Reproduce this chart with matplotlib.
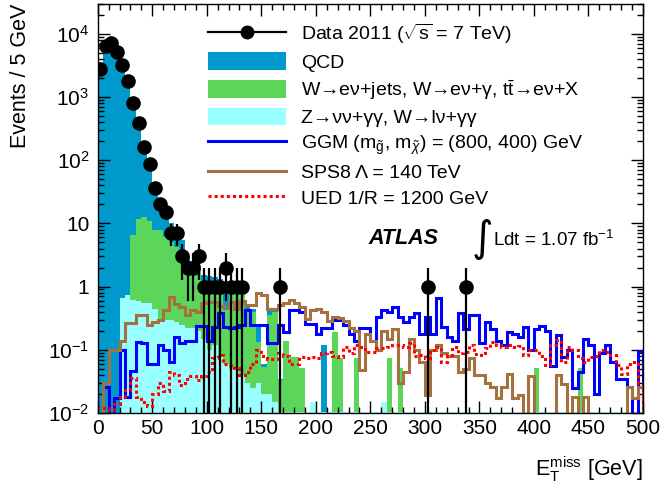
import numpy as np
import matplotlib
matplotlib.use("Agg")
import matplotlib.pyplot as plt
from matplotlib.lines import Line2D
from matplotlib.patches import Patch
from matplotlib.ticker import MultipleLocator, LogLocator, FixedLocator, FixedFormatter, NullFormatter

plt.rcParams['font.family'] = ['Liberation Sans', 'DejaVu Sans']
plt.rcParams['mathtext.fontset'] = 'custom'
plt.rcParams['mathtext.rm'] = 'Liberation Sans'
plt.rcParams['mathtext.it'] = 'Liberation Sans:italic'
plt.rcParams['mathtext.bf'] = 'Liberation Sans:bold'
plt.rcParams['mathtext.sf'] = 'Liberation Sans'

# 5 GeV bins, 0 - 500 GeV
bin_width = 5
n_bins = 100

# observed events per bin
data_2011 = [2770, 6400, 7150, 5150, 3200, 1790, 800, 390, 162, 87,
             36, 20, 15, 7, 7, 3, 2, 2, 3, 1,
             1, 1, 1, 2, 1, 1, 1, 0, 0, 0,
             0, 0, 0, 1, 0, 0, 0, 0, 0, 0,
             0, 0, 0, 0, 0, 0, 0, 0, 0, 0,
             0, 0, 0, 0, 0, 0, 0, 0, 0, 0,
             1, 0, 0, 0, 0, 0, 0, 1, 0, 0,
             0, 0, 0, 0, 0, 0, 0, 0, 0, 0,
             0, 0, 0, 0, 0, 0, 0, 0, 0, 0,
             0, 0, 0, 0, 0, 0, 0, 0, 0, 0]

# stacked background: top of QCD + W + Z
stack_qcd = [2500, 6000, 6300, 5000, 3000, 1500, 720, 340, 150, 75,
             38, 23, 14.5, 10, 7, 5.5, 3, 2.5, 2.2, 1.5,
             1.45, 1.4, 1.3, 0.8, 1.0, 0.95, 0.9, 0.5, 0.45, 0.25,
             0.06, 0.45, 0.42, 0.035, 0.14, 0.078, 0.078, 0.052, 0.0105, 0.015,
             0.0105, 0.12, 0.0105, 0.19, 0.075, 0.0105, 0.0105, 0.075, 0.0105, 0.0105,
             0.0105, 0.0105, 0.015, 0.075, 0.0105, 0.052, 0.0105, 0.0105, 0.0105, 0.0105,
             0.0105, 0.0105, 0.0105, 0.0105, 0.0105, 0.0105, 0.0105, 0.0105, 0.0105, 0.0105,
             0.0105, 0.0105, 0.0105, 0.0105, 0.0105, 0.0105, 0.0105, 0.0105, 0.0105, 0.0105,
             0.052, 0.0105, 0.0105, 0.0105, 0.0105, 0.0105, 0.0105, 0.0105, 0.052, 0.0105,
             0.0105, 0.0105, 0.0105, 0.0105, 0.0105, 0.0105, 0.0105, 0.0105, 0.0105, 0.0105]

# stacked background: top of W + Z
stack_w = [0, 0, 0, 0, 0.65, 0.74, 6.5, 11.7, 12.5, 11,
           8, 8, 6.2, 5, 4.3, 3.5, 2.5, 1.6, 1.8, 1.2,
           1.1, 1.0, 0.9, 0.43, 0.9, 0.85, 0.8, 0.45, 0.4, 0.134,
           0.054, 0.355, 0.4, 0.033, 0.14, 0.078, 0.078, 0.052, 0.0105, 0.015,
           0.0105, 0.0105, 0.0105, 0.19, 0.075, 0.0105, 0.0105, 0.075, 0.0105, 0.0105,
           0.0105, 0.0105, 0.015, 0.075, 0.0105, 0.052, 0.0105, 0.0105, 0.0105, 0.0105,
           0.0105, 0.0105, 0.0105, 0.0105, 0.0105, 0.0105, 0.0105, 0.0105, 0.0105, 0.0105,
           0.0105, 0.0105, 0.0105, 0.0105, 0.0105, 0.0105, 0.0105, 0.0105, 0.0105, 0.0105,
           0.052, 0.0105, 0.0105, 0.0105, 0.0105, 0.0105, 0.0105, 0.0105, 0.052, 0.0105,
           0.0105, 0.0105, 0.0105, 0.0105, 0.0105, 0.0105, 0.0105, 0.0105, 0.0105, 0.0105]

# bottom of stack: Z -> nu nu + gamma gamma, W -> l nu + gamma gamma
stack_z = [0, 0, 0, 0, 0.65, 0.74, 0.62, 0.6, 0.56, 0.55,
           0.45, 0.3, 0.3, 0.3, 0.28, 0.25, 0.22, 0.22, 0.2, 0.15,
           0.1, 0.12, 0.08, 0.06, 0.05, 0.05, 0.04, 0.03, 0.025, 0.03,
           0.02, 0.02, 0.015, 0.0105, 0.0105, 0.0105, 0.0105, 0.0105, 0.0105, 0.015,
           0.0105, 0.0105, 0.0105, 0.0105, 0.0105, 0.0105, 0.0105, 0.0105, 0.0105, 0.0105,
           0.0105, 0.0105, 0.015, 0.0105, 0.0105, 0.0105, 0.0105, 0.0105, 0.0105, 0.0105,
           0.0105, 0.0105, 0.0105, 0.0105, 0.0105, 0.0105, 0.0105, 0.0105, 0.0105, 0.0105,
           0.0105, 0.0105, 0.0105, 0.0105, 0.0105, 0.0105, 0.0105, 0.0105, 0.0105, 0.0105,
           0.0105, 0.0105, 0.0105, 0.0105, 0.0105, 0.0105, 0.0105, 0.0105, 0.0105, 0.0105,
           0.0105, 0.0105, 0.0105, 0.0105, 0.0105, 0.0105, 0.0105, 0.0105, 0.0105, 0.0105]

# signal models
ggm = [0, 0.026, 0, 0.017, 0.1, 0.018, 0.047, 0.134, 0.13, 0.06,
       0.06, 0.12, 0.1, 0.065, 0.16, 0.13, 0.14, 0.14, 0.24, 0.24,
       0.14, 0.23, 0.38, 0.23, 0.22, 0.23, 0.25, 0.43, 0.25, 0.25,
       0.25, 0.13, 0.13, 0.25, 0.19, 0.43, 0.43, 0.4, 0.26, 0.26,
       0.18, 0.22, 0.22, 0.3, 0.3, 0.25, 0.18, 0.14, 0.22, 0.22,
       0.14, 0.33, 0.43, 0.4, 0.48, 0.33, 0.28, 0.33, 0.38, 0.18,
       0.33, 0.18, 0.65, 0.23, 0.16, 0.14, 0.38, 0.21, 0.35, 0.35,
       0.13, 0.28, 0.21, 0.14, 0.12, 0.19, 0.18, 0.16, 0.23, 0.1,
       0.21, 0.24, 0.2, 0.055, 0.17, 0.078, 0.1, 0.025, 0.045, 0.15,
       0.12, 0.02, 0.088, 0.12, 0.065, 0.035, 0.035, 0.026, 0, 0.094]

sps8 = [0, 0.03, 0.1, 0.1, 0.14, 0.27, 0.27, 0.35, 0.35, 0.25,
        0.28, 0.3, 0.43, 0.69, 0.54, 0.48, 0.36, 0.43, 0.4, 0.55,
        0.58, 0.58, 0.5, 0.48, 0.58, 0.45, 0.6, 0.52, 0.52, 0.78,
        0.73, 0.45, 0.45, 0.52, 0.55, 0.61, 0.55, 0.48, 0.31, 0.42,
        0.45, 0.4, 0.29, 0.33, 0.32, 0.29, 0.22, 0.2, 0.048, 0.18,
        0.14, 0.1, 0.2, 0.15, 0.21, 0.03, 0.045, 0.15, 0.1, 0.065,
        0.019, 0.1, 0.12, 0.088, 0.08, 0.08, 0.045, 0.05, 0.075, 0.04,
        0.04, 0.03, 0.026, 0.017, 0.026, 0.042, 0.017, 0.019, 0, 0.038,
        0, 0, 0, 0, 0.04, 0.029, 0, 0.018, 0, 0.018,
        0, 0, 0, 0, 0, 0, 0, 0.026, 0.017, 0.026]

ued = [0.012, 0.012, 0.011, 0.014, 0.018, 0.023, 0.036, 0.018, 0.015, 0.013,
       0.02, 0.03, 0.022, 0.045, 0.04, 0.028, 0.035, 0.038, 0.033, 0.038,
       0.045, 0.075, 0.083, 0.06, 0.057, 0.052, 0.04, 0.045, 0.06, 0.1,
       0.08, 0.072, 0.072, 0.088, 0.08, 0.06, 0.06, 0.078, 0.075, 0.078,
       0.073, 0.088, 0.093, 0.08, 0.078, 0.11, 0.09, 0.119, 0.11, 0.093,
       0.093, 0.105, 0.105, 0.112, 0.119, 0.119, 0.112, 0.13, 0.08, 0.083,
       0.073, 0.099, 0.112, 0.065, 0.083, 0.112, 0.088, 0.093, 0.119, 0.085,
       0.083, 0.105, 0.134, 0.119, 0.112, 0.119, 0.112, 0.115, 0.083, 0.1,
       0.099, 0.08, 0.057, 0.12, 0.143, 0.065, 0.112, 0.099, 0.073, 0.065,
       0.078, 0.08, 0.099, 0.093, 0.083, 0.057, 0.042, 0.06, 0.065, 0.03]

labels = ["Data 2011 ($\\sqrt{\\rm s}$ = 7 TeV)",
          "QCD",
          "W\u2192e\u03bd+jets, W\u2192e\u03bd+\u03b3, t$\\bar{\\rm t}$\u2192e\u03bd+X",
          "Z\u2192\u03bd\u03bd+\u03b3\u03b3, W\u2192l\u03bd+\u03b3\u03b3",
          "GGM (m$_{\\tilde{\\rm g}}$, m$_{\\tilde{\\chi}}$) = (800, 400) GeV",
          "SPS8 \u039b = 140 TeV",
          "UED 1/R = 1200 GeV"]

ytick_vals = [1e-2, 1e-1, 1, 10, 1e2, 1e3, 1e4]
ytick_labels = ["10$^{-2}$", "10$^{-1}$", "1", "10", "10$^{2}$", "10$^{3}$", "10$^{4}$"]

c_qcd = '#0099cc'
c_w = '#5bd65b'
c_z = '#99ffff'
c_ggm = '#0000ff'
c_sps8 = '#a5713f'
c_ued = '#ff0000'

edges = np.arange(n_bins + 1) * bin_width
centers = edges[:-1] + bin_width / 2.0

fig = plt.figure(figsize=(6.65, 4.94), dpi=100)
W, H = 665.0, 494.0
ax = fig.add_axes([97.7 / W, 1 - 413 / H, (643 - 97.7) / W, (413 - 3.6) / H])
ax.set_yscale('log')

floor = 1e-4
ax.stairs(stack_qcd, edges, fill=True, color=c_qcd, baseline=floor, zorder=1)
ax.stairs(stack_w, edges, fill=True, color=c_w, baseline=floor, zorder=1.1)
ax.stairs(stack_z, edges, fill=True, color=c_z, baseline=floor, zorder=1.2)

ax.stairs(np.maximum(ggm, floor), edges, color=c_ggm, lw=2.2, baseline=floor, zorder=2)
ax.stairs(np.maximum(sps8, floor), edges, color=c_sps8, lw=2.2, baseline=floor, zorder=2)
ax.stairs(np.maximum(ued, floor), edges, color=c_ued, lw=2.2, baseline=floor,
          linestyle=(0, (1, 1)), zorder=2)

n = np.array(data_2011, dtype=float)
sel = n > 0
ax.errorbar(centers[sel], n[sel], yerr=np.sqrt(n[sel]), fmt='o', color='k',
            ms=9.5, elinewidth=1.6, capsize=0, zorder=5)

ax.set_xlim(0, 500)
ax.set_ylim(1e-2, 3e4)

ax.xaxis.set_major_locator(MultipleLocator(50))
ax.xaxis.set_minor_locator(MultipleLocator(10))
ax.yaxis.set_major_locator(FixedLocator(ytick_vals))
ax.yaxis.set_major_formatter(FixedFormatter(ytick_labels))
ax.yaxis.set_minor_locator(LogLocator(base=10, subs=np.arange(2, 10), numticks=20))
ax.yaxis.set_minor_formatter(NullFormatter())
ax.tick_params(which='both', direction='in', top=True, right=True, labelsize=15, width=1)
ax.tick_params(which='major', length=8.5)
ax.tick_params(which='minor', length=4.5)
ax.tick_params(axis='x', which='major', pad=4)
ax.tick_params(axis='y', which='major', pad=6)
for sp in ax.spines.values():
    sp.set_linewidth(1.0)
    sp.set_zorder(6)

ax.set_ylabel("Events / 5 GeV", fontsize=15.5, loc='top', labelpad=12)
ax.set_xlabel("E$_{\\rm T}^{\\rm miss}$ [GeV]", fontsize=15.5, loc='right', labelpad=12)

handles = [Line2D([], [], color='k', marker='o', ms=9, lw=1.6),
           Patch(facecolor=c_qcd, edgecolor='none'),
           Patch(facecolor=c_w, edgecolor='none'),
           Patch(facecolor=c_z, edgecolor='none'),
           Line2D([], [], color=c_ggm, lw=2.2),
           Line2D([], [], color=c_sps8, lw=2.2),
           Line2D([], [], color=c_ued, lw=2.2, linestyle=(0, (1, 1)))]
fig.legend(handles, labels, loc='upper left', bbox_to_anchor=(208 / W, 1 - 22 / H),
           bbox_transform=fig.transFigure, frameon=False, fontsize=14,
           handlelength=4.0, handleheight=1.0, handletextpad=0.8,
           labelspacing=0.32, borderpad=0, borderaxespad=0)

fig.text(368 / W, 1 - 238 / H, "ATLAS", fontsize=15.5, fontweight='bold',
         fontstyle='italic', ha='left', va='center')
fig.text(472 / W, 1 - 239 / H, "\u222b", fontsize=30, family='DejaVu Sans',
         ha='left', va='center')
fig.text(493 / W, 1 - 240 / H, "Ldt = 1.07 fb$^{-1}$", fontsize=13.5,
         ha='left', va='center')

fig.savefig("out.png", dpi=100)
